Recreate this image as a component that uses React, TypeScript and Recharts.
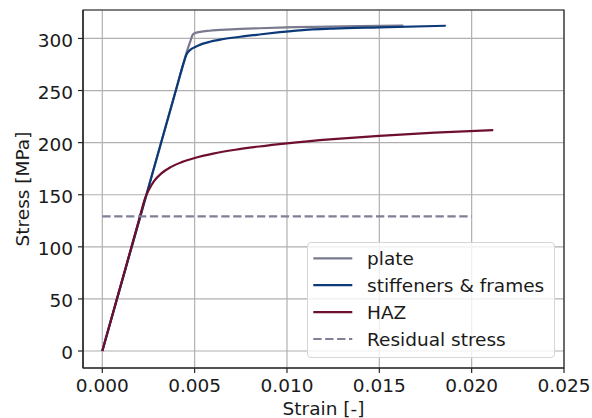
import React from 'react';
import { LineChart, Line, XAxis, YAxis, CartesianGrid, ReferenceArea } from 'recharts';

const FONT = '"DejaVu Sans", sans-serif';
const FS = 18.5;

const plateStrain = [0, 0.001, 0.002, 0.003, 0.004, 0.0044, 0.00457, 0.00478, 0.00488, 0.005, 0.0053, 0.0058, 0.007, 0.0085, 0.01, 0.013, 0.0163];
const plateStress = [0, 62.8, 125.6, 188.4, 251.2, 276.3, 287, 298, 303, 305, 306.3, 307.4, 308.7, 309.8, 310.7, 311.6, 312.3];

const stiffStrain = [0, 0.001, 0.002, 0.003, 0.004, 0.0044, 0.00457, 0.00475, 0.00493, 0.0052, 0.00583, 0.0065, 0.00746, 0.0085, 0.00962, 0.0107, 0.0125, 0.015, 0.0186];
const stiffStress = [0, 62.8, 125.6, 188.4, 251.2, 276.3, 285, 288.8, 291, 293.3, 296.8, 299.2, 301.6, 303.8, 306, 307.8, 309.5, 310.7, 312.2];

const hazStrain = [0, 0.001, 0.002, 0.00231, 0.0025, 0.0028, 0.0032, 0.0037, 0.0043, 0.005, 0.006, 0.0072, 0.0085, 0.01, 0.0125, 0.015, 0.018, 0.02117];
const hazStress = [0, 63.3, 126.6, 146.3, 154, 163, 170.5, 176.5, 181.3, 185.3, 189.5, 193.2, 196.3, 199.3, 203.3, 206.5, 209.6, 212.1];

const residualStrain = [0, 0.02];
const residualStress = [129.3, 129.3];

const xTicks = [0, 0.005, 0.01, 0.015, 0.02, 0.025];
const yTicks = [0, 50, 100, 150, 200, 250, 300];

const X_DOMAIN: [number, number] = [-0.001045, 0.025];
const Y_DOMAIN: [number, number] = [-16.3, 327.3];

const zip = (xs: number[], ys: number[]) => xs.map((x, i) => ({ x, y: ys[i] }));

const plateData = zip(plateStrain, plateStress);
const stiffData = zip(stiffStrain, stiffStress);
const hazData = zip(hazStrain, hazStress);
const residualData = zip(residualStrain, residualStress);

const legendItems = [
  { name: 'plate', color: '#797a8e', dash: undefined as string | undefined },
  { name: 'stiffeners & frames', color: '#0c3a78', dash: undefined as string | undefined },
  { name: 'HAZ', color: '#6e0f2e', dash: undefined as string | undefined },
  { name: 'Residual stress', color: '#7f8098', dash: '8.3 3.6' },
];

const XTick = (props: any) => {
  const { x, payload } = props;
  return (
    <text x={x} y={392} textAnchor="middle" fontFamily={FONT} fontSize={FS} fill="#1a1a1a">
      {Number(payload.value).toFixed(3)}
    </text>
  );
};

const YTick = (props: any) => {
  const { y, payload } = props;
  return (
    <text x={73} y={y + 8.3} textAnchor="end" fontFamily={FONT} fontSize={FS} fill="#1a1a1a">
      {payload.value}
    </text>
  );
};

export default function App() {
  return (
    <div style={{ position: 'absolute', left: 0, top: 0, width: 592, height: 418, background: '#fff' }}>
      <LineChart width={592} height={418} margin={{ top: 10, right: 28, left: 0, bottom: 0 }}>
        <CartesianGrid stroke="#b0b0b0" strokeWidth={1.2} />
        <XAxis
          dataKey="x"
          type="number"
          domain={X_DOMAIN}
          ticks={xTicks}
          allowDataOverflow
          height={50}
          tick={<XTick />}
          tickSize={5}
          tickLine={{ stroke: '#262626', strokeWidth: 1.2 }}
          axisLine={{ stroke: '#262626', strokeWidth: 1.2 }}
          label={{
            content: () => (
              <text x={323.5} y={415} textAnchor="middle" fontFamily={FONT} fontSize={FS} fill="#1a1a1a">
                Strain [-]
              </text>
            ),
          }}
        />
        <YAxis
          type="number"
          domain={Y_DOMAIN}
          ticks={yTicks}
          allowDataOverflow
          width={83}
          tick={<YTick />}
          tickSize={5}
          tickLine={{ stroke: '#262626', strokeWidth: 1.2 }}
          axisLine={{ stroke: '#262626', strokeWidth: 1.2 }}
          label={{
            content: () => (
              <text
                x={28.5}
                y={189}
                transform="rotate(-90, 28.5, 189)"
                textAnchor="middle"
                fontFamily={FONT}
                fontSize={FS}
                fill="#1a1a1a"
              >
                Stress [MPa]
              </text>
            ),
          }}
        />
        <Line data={plateData} dataKey="y" type="monotone" stroke="#797a8e" strokeWidth={2.2} dot={false} isAnimationActive={false} />
        <Line data={stiffData} dataKey="y" type="monotone" stroke="#0c3a78" strokeWidth={2.2} dot={false} isAnimationActive={false} />
        <Line data={hazData} dataKey="y" type="monotone" stroke="#6e0f2e" strokeWidth={2.2} dot={false} isAnimationActive={false} />
        <Line data={residualData} dataKey="y" type="linear" stroke="#7f8098" strokeWidth={2.2} strokeDasharray="8.3 3.6" dot={false} isAnimationActive={false} />
        <ReferenceArea
          x1={X_DOMAIN[0]}
          x2={X_DOMAIN[1]}
          y1={Y_DOMAIN[0]}
          y2={Y_DOMAIN[1]}
          fill="none"
          stroke="#262626"
          strokeWidth={1.2}
          ifOverflow="extendDomain"
        />
      </LineChart>
      <div
        style={{
          position: 'absolute',
          left: 307,
          top: 242,
          width: 248,
          height: 116,
          boxSizing: 'border-box',
          border: '1px solid #d6d6d6',
          borderRadius: 4,
          background: 'rgba(255,255,255,0.8)',
        }}
      >
        <svg width={248} height={116} style={{ position: 'absolute', left: -1, top: -1 }}>
          {legendItems.map((it, i) => {
            const cy = 16.3 + i * 26.9;
            return (
              <g key={it.name}>
                <line x1={6.3} x2={45.3} y1={cy} y2={cy} stroke={it.color} strokeWidth={2.2} strokeDasharray={it.dash} />
                <text x={60} y={cy + 6.6} fontFamily={FONT} fontSize={FS} fill="#1a1a1a">
                  {it.name}
                </text>
              </g>
            );
          })}
        </svg>
      </div>
    </div>
  );
}
